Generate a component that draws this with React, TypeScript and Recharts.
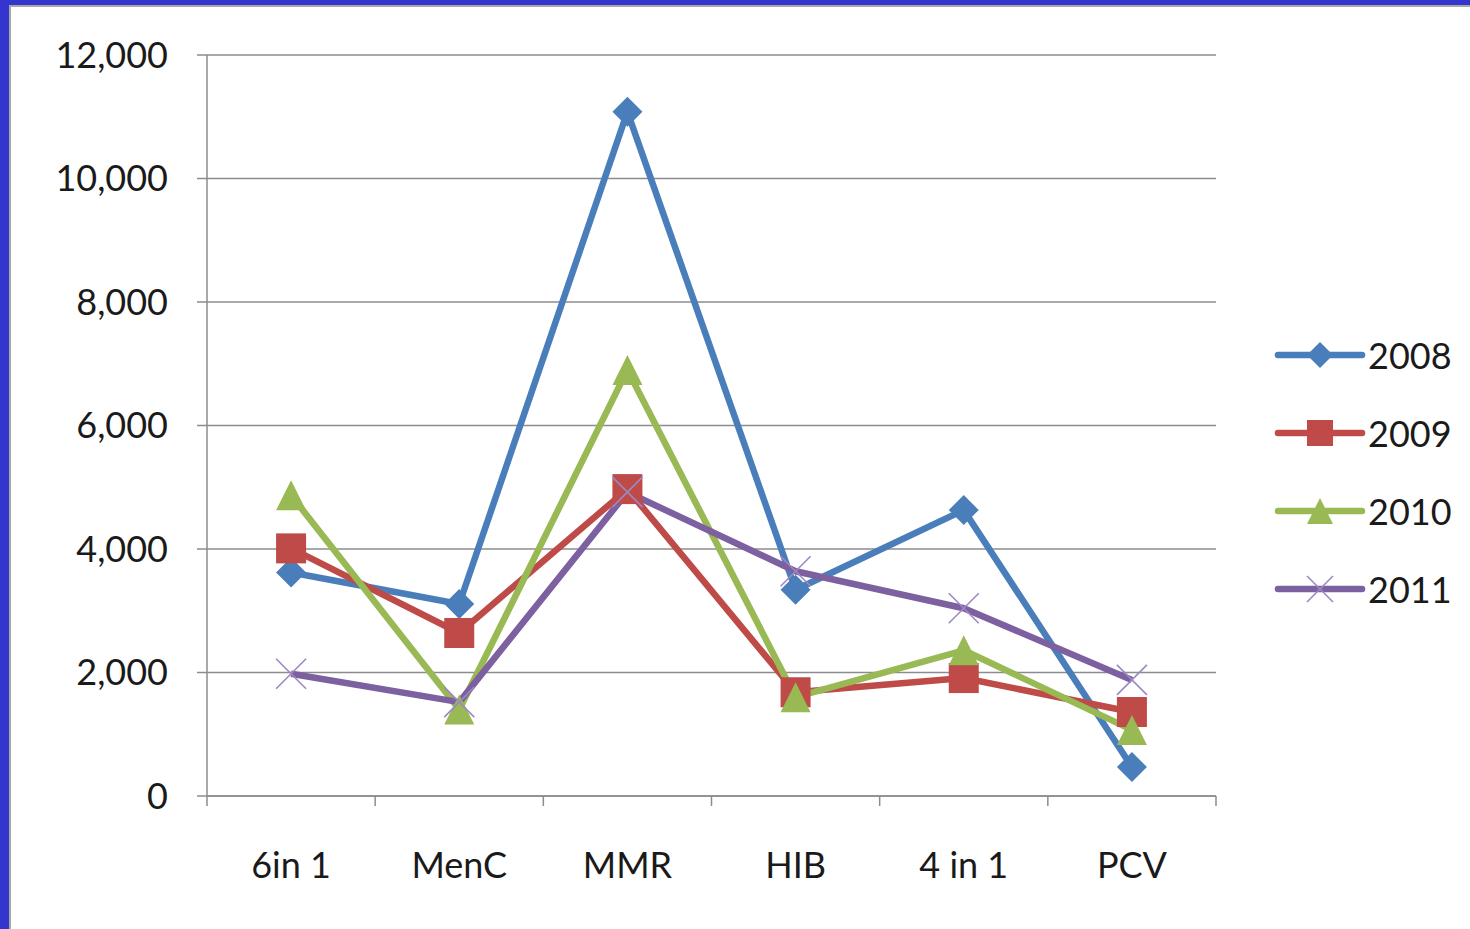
import React from 'react';
import { LineChart, Line, XAxis, YAxis, CartesianGrid, Legend } from 'recharts';

const categories = ['6in 1', 'MenC', 'MMR', 'HIB', '4 in 1', 'PCV'];
const values2008 = [3620, 3110, 11080, 3340, 4630, 470];
const values2009 = [4010, 2640, 4970, 1680, 1910, 1360];
const values2010 = [4870, 1400, 6900, 1600, 2360, 1070];
const values2011 = [1980, 1520, 4920, 3640, 3040, 1880];
const yTicks = [0, 2000, 4000, 6000, 8000, 10000, 12000];
const seriesNames = ['2008', '2009', '2010', '2011'];

const W = 1470;
const H = 929;
const M = { top: 55, right: 254, left: 0, bottom: 0 };
const Y_W = 207;
const X_H = 133;
const BAND = (W - M.right - M.left - Y_W) / categories.length;
const FONT = 'Lato, "Open Sans", sans-serif';
const AXIS = '#8c8c8c';
const TEXT = '#1a1a1a';

const colors = ['#4a7ebb', '#be4b48', '#98b954', '#7d60a0'];
const markers = ['diamond', 'square', 'triangle', 'cross'];

const data = categories.map((name, i) => ({
  name,
  pos: i + 0.5,
  y2008: values2008[i],
  y2009: values2009[i],
  y2010: values2010[i],
  y2011: values2011[i],
}));

const Marker = ({ kind, cx, cy, s, color }: { kind: string; cx: number; cy: number; s: number; color: string }) => {
  if (kind === 'diamond') {
    return <polygon points={`${cx},${cy - s} ${cx + s},${cy} ${cx},${cy + s} ${cx - s},${cy}`} fill={color} />;
  }
  if (kind === 'square') {
    return <rect x={cx - s} y={cy - s} width={s * 2} height={s * 2} fill={color} />;
  }
  if (kind === 'triangle') {
    return <polygon points={`${cx},${cy - s} ${cx + s},${cy + s} ${cx - s},${cy + s}`} fill={color} />;
  }
  return (
    <g stroke="#9d88c2" strokeWidth={1.6}>
      <line x1={cx - s} y1={cy - s} x2={cx + s} y2={cy + s} />
      <line x1={cx - s} y1={cy + s} x2={cx + s} y2={cy - s} />
    </g>
  );
};

const makeDot = (idx: number) => (props: any) => {
  const { cx, cy, index } = props;
  return (
    <g key={`d-${idx}-${index}`}>
      <Marker kind={markers[idx]} cx={cx} cy={cy} s={15} color={colors[idx]} />
    </g>
  );
};

const XTick = (props: any) => {
  const { x, y, payload } = props;
  const i = payload.value;
  if (i >= categories.length) return null;
  return (
    <text x={x + BAND / 2} y={y} dy="0.71em" textAnchor="middle" fontSize={36} fontFamily={FONT} fill={TEXT}>
      {categories[i]}
    </text>
  );
};

const LegendBox = () => (
  <div style={{ fontFamily: FONT }}>
    {seriesNames.map((n, i) => (
      <div key={n} style={{ display: 'flex', alignItems: 'center', height: 78 }}>
        <svg width={94} height={40}>
          <line x1={4} y1={20} x2={88} y2={20} stroke={colors[i]} strokeWidth={6.5} strokeLinecap="round" />
          <Marker kind={markers[i]} cx={46} cy={20} s={13} color={colors[i]} />
        </svg>
        <span style={{ fontSize: 36, color: TEXT, lineHeight: 1 }}>{n}</span>
      </div>
    ))}
  </div>
);

const keys = ['y2008', 'y2009', 'y2010', 'y2011'];

export default function App() {
  return (
    <div style={{ position: 'absolute', left: 0, top: 0, width: W, height: H, background: '#3434cf', overflow: 'hidden' }}>
      <div
        style={{
          position: 'absolute',
          left: 9,
          top: 5,
          right: 0,
          bottom: 0,
          background: '#fff',
          borderLeft: '2px solid #a8a8a8',
          borderTop: '2px solid #a8a8a8',
        }}
      />
      <div style={{ position: 'absolute', left: 0, top: 0 }}>
        <LineChart width={W} height={H} data={data} margin={M}>
          <CartesianGrid vertical={false} stroke={AXIS} strokeWidth={1.5} />
          <XAxis
            dataKey="pos"
            type="number"
            domain={[0, categories.length]}
            ticks={[0, 1, 2, 3, 4, 5, 6]}
            height={X_H}
            tickSize={10}
            tickMargin={46}
            stroke={AXIS}
            strokeWidth={1.5}
            tick={<XTick />}
          />
          <YAxis
            domain={[0, 12000]}
            ticks={yTicks}
            width={Y_W}
            tickSize={10}
            tickMargin={29}
            stroke={AXIS}
            strokeWidth={1.5}
            tick={{ fontSize: 36, fontFamily: FONT, fill: TEXT }}
            tickFormatter={(v: number) => v.toLocaleString('en-US')}
          />
          {keys.map((k, i) => (
            <Line
              key={k}
              dataKey={k}
              name={seriesNames[i]}
              type="linear"
              stroke={colors[i]}
              strokeWidth={6.5}
              strokeLinejoin="round"
              dot={makeDot(i)}
              activeDot={false}
              isAnimationActive={false}
            />
          ))}
          <Legend
            layout="horizontal"
            align="center"
            verticalAlign="middle"
            content={<LegendBox />}
            wrapperStyle={{ left: 1274, top: 316, width: 196, height: 320 }}
          />
        </LineChart>
      </div>
    </div>
  );
}
